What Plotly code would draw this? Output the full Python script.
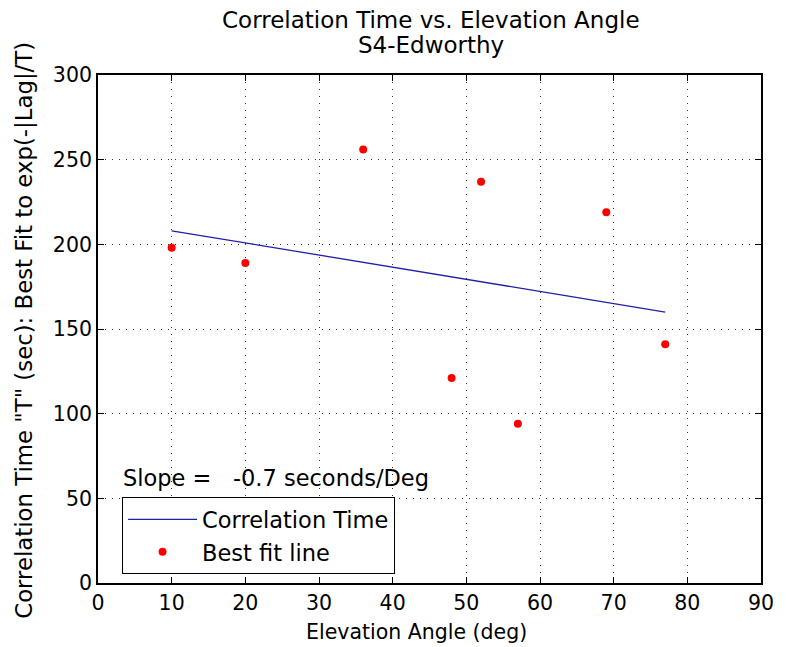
import plotly.graph_objects as go

elev = [10, 20, 36, 48, 52, 57, 69, 77]
corr_time = [198, 189, 256, 121, 237, 94, 219, 141]
fit_x = [10, 77]
fit_y = [208, 160]
x_ticks = [0, 10, 20, 30, 40, 50, 60, 70, 80, 90]
y_ticks = [0, 50, 100, 150, 200, 250, 300]

font = "DejaVu Sans, sans-serif"

fig = go.Figure()
fig.add_trace(go.Scatter(x=fit_x, y=fit_y, mode="lines", name="Correlation Time",
                         line=dict(color="#1f1fa8", width=1.3)))
fig.add_trace(go.Scatter(x=elev, y=corr_time, mode="markers", name="Best fit line",
                         marker=dict(color="red", size=8)))

axis_common = dict(showline=True, linecolor="black", linewidth=1.8, mirror="ticks",
                   ticks="inside", ticklen=6, tickcolor="black", tickwidth=1.3,
                   showgrid=True, gridcolor="#333333", griddash="1px,6px", gridwidth=1,
                   zeroline=False, tickfont=dict(size=20.5, color="black", family=font))

def txt(s, x, y, size, angle=0):
    return dict(text=s, xref="paper", yref="paper", x=x, y=y,
                xanchor="center", yanchor="middle", showarrow=False, textangle=angle,
                font=dict(size=size, family=font, color="black"))

fig.update_layout(
    width=786, height=647,
    margin=dict(l=98, r=17, t=75, b=64),
    paper_bgcolor="white", plot_bgcolor="white",
    font=dict(family=font, color="black"),
    xaxis=dict(range=[0, 90], tickvals=x_ticks, **axis_common),
    yaxis=dict(range=[0, 300], tickvals=y_ticks, **axis_common),
    legend=dict(x=0.036, y=0.169, xanchor="left", yanchor="top",
                bordercolor="black", borderwidth=1.2, bgcolor="white",
                font=dict(size=22.5, family=font, color="black"),
                itemwidth=69, tracegroupgap=0),
    showlegend=True,
    annotations=[
        txt("Correlation Time vs. Elevation Angle", 0.502, 1.108, 23),
        txt("S4-Edworthy", 0.502, 1.059, 23),
        txt("Elevation Angle (deg)", 0.481, -0.096, 20.5),
        txt('Correlation Time "T" (sec): Best Fit to exp(-|Lag|/T)', -0.112, 0.498, 22.8, -90),
        dict(text="Slope =   -0.7 seconds/Deg", xref="paper", yref="paper",
             x=0.034, y=0.207, xanchor="left", yanchor="middle",
             showarrow=False, font=dict(size=22.5, family=font, color="black")),
    ],
)

fig.write_html("out.html")
